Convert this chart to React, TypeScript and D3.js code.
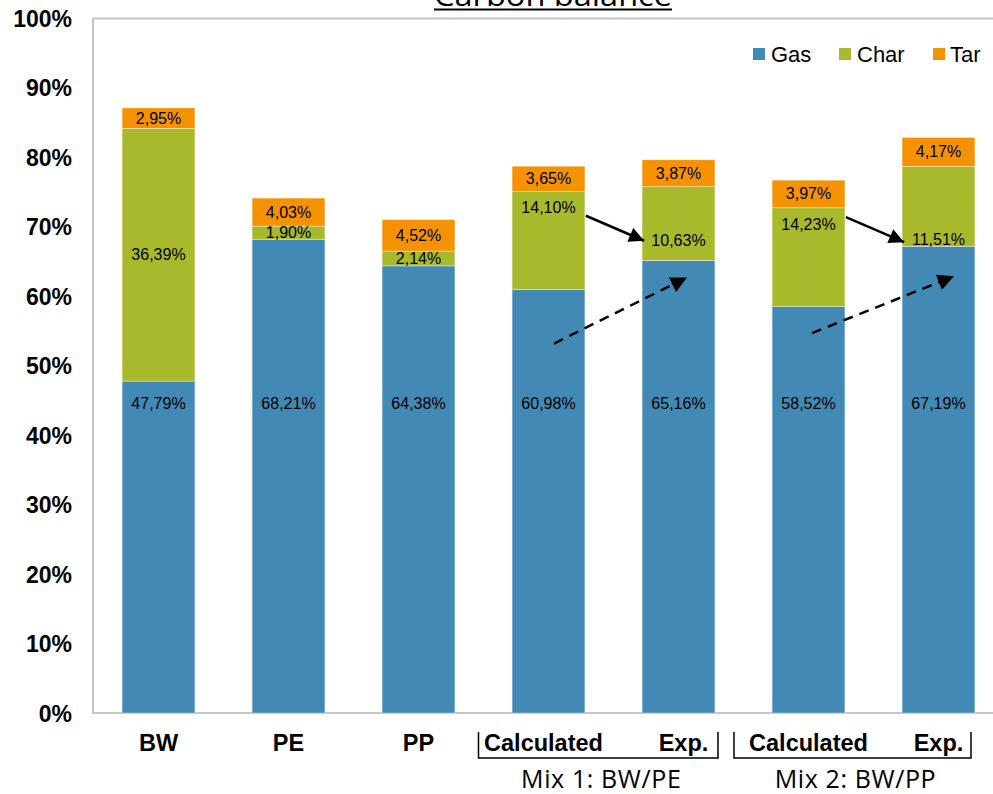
import React from "react";
import * as d3 from "d3";

// Carbon balance per feedstock (% of feed carbon)
const categories = ["BW", "PE", "PP", "Calc1", "Exp1", "Calc2", "Exp2"];
const categoryLabels = ["BW", "PE", "PP", "Calculated", "Exp.", "Calculated", "Exp."];
const gasValues = [47.79, 68.21, 64.38, 60.98, 65.16, 58.52, 67.19];
const charValues = [36.39, 1.9, 2.14, 14.1, 10.63, 14.23, 11.51];
const tarValues = [2.95, 4.03, 4.52, 3.65, 3.87, 3.97, 4.17];
const seriesNames = ["Gas", "Char", "Tar"];
const yTicks = [0, 10, 20, 30, 40, 50, 60, 70, 80, 90, 100];
const mixGroups = [
  { label: "Mix 1: BW/PE", from: "Calc1", to: "Exp1" },
  { label: "Mix 2: BW/PP", from: "Calc2", to: "Exp2" },
];

const W = 993;
const H = 794;
const COLORS = ["#4389b5", "#a8b92b", "#f59200"];
const ARIAL = "'Liberation Sans', Arial, sans-serif";
const CALIBRI = "'Open Sans', 'Noto Sans', sans-serif";

const fmt = (v: number) => v.toFixed(2).replace(".", ",") + "%";

export default function App() {
  const x = d3
    .scaleBand<string>()
    .domain(categories)
    .range([93.5, 1003.5])
    .paddingInner(0.44)
    .paddingOuter(0.22);
  const y = d3.scaleLinear().domain([0, 100]).range([713, 18.5]);

  const rows = categories.map((c, i) => ({
    cat: c,
    Gas: gasValues[i],
    Char: charValues[i],
    Tar: tarValues[i],
  }));
  const stacked = d3.stack<any>().keys(seriesNames)(rows);

  const bw = x.bandwidth();
  const cx = (c: string) => (x(c) as number) + bw / 2;

  // Label anchors: gas labels share one height, some char labels are nudged
  const gasLabelY = 44.6;
  const charLabelOverride: Record<string, number> = {
    Calc1: 72.8,
    Exp1: 68.1,
    Calc2: 70.4,
    Exp2: 68.2,
  };
  // Horizontal nudges of the category captions under the first mix
  const labelShift: Record<string, number> = { Calc1: -5, Exp1: 5 };

  // Annotation arrows between calculated and experimental bars
  const solidArrows = [
    { from: "Calc1", to: "Exp1", y0: 71.6, y1: 68.0 },
    { from: "Calc2", to: "Exp2", y0: 71.4, y1: 67.8 },
  ];
  const dashedArrows = [
    { from: "Calc1", to: "Exp1", dx0: 5.5, dx1: 8.5, y0: 53.2, y1: 62.7 },
    { from: "Calc2", to: "Exp2", dx0: 3.5, dx1: 15.5, y0: 54.7, y1: 62.9 },
  ];

  const legendItems = [
    { name: "Gas", sx: 753, tx: 771 },
    { name: "Char", sx: 839, tx: 857 },
    { name: "Tar", sx: 933, tx: 950 },
  ];

  return (
    <svg
      width={W}
      height={H}
      style={{ position: "absolute", left: 0, top: 0, background: "#fff" }}
    >
      <defs>
        <marker
          id="headSolid"
          viewBox="0 0 10 10"
          refX="10"
          refY="5"
          markerWidth="7"
          markerHeight="6"
          markerUnits="strokeWidth"
          orient="auto"
        >
          <path d="M0,0 L10,5 L0,10 z" fill="#000" />
        </marker>
        <marker
          id="headDashed"
          viewBox="0 0 10 10"
          refX="10"
          refY="5"
          markerWidth="7"
          markerHeight="6.5"
          markerUnits="strokeWidth"
          orient="auto"
        >
          <path d="M0,0 L10,5 L0,10 z" fill="#000" />
        </marker>
      </defs>

      {/* plot area frame */}
      <rect
        x={93}
        y={y(100)}
        width={920}
        height={y(0) - y(100)}
        fill="none"
        stroke="#c6c6c6"
        strokeWidth={2}
      />

      {/* title */}
      <text
        x={553}
        y={5.5}
        textAnchor="middle"
        fontFamily={CALIBRI}
        fontSize={30}
        textLength={238}
        lengthAdjust="spacingAndGlyphs"
        fill="#000"
      >
        Carbon balance
      </text>
      <line x1={434} x2={672} y1={9.5} y2={9.5} stroke="#000" strokeWidth={2} />

      {/* y axis labels */}
      {yTicks.map((t) => (
        <text
          key={t}
          x={72}
          y={y(t) + 8.5}
          textAnchor="end"
          fontFamily={ARIAL}
          fontWeight="bold"
          fontSize={23}
          fill="#000"
        >
          {t}%
        </text>
      ))}

      {/* stacked bars */}
      {stacked.map((s, si) => (
        <g key={s.key}>
          {s.map((d: any, i: number) => (
            <rect
              key={i}
              x={x(categories[i])}
              y={y(d[1])}
              width={bw}
              height={y(d[0]) - y(d[1])}
              fill={COLORS[si]}
              stroke="#ffffff"
              strokeOpacity={0.45}
              strokeWidth={0.8}
            />
          ))}
        </g>
      ))}

      {/* data labels */}
      {stacked.map((s, si) =>
        s.map((d: any, i: number) => {
          const cat = categories[i];
          const v = d[1] - d[0];
          let ly = (d[0] + d[1]) / 2;
          if (si === 0) ly = gasLabelY;
          if (si === 1 && charLabelOverride[cat] !== undefined) ly = charLabelOverride[cat];
          return (
            <text
              key={`${si}-${i}`}
              x={cx(cat)}
              y={y(ly) + 5.5}
              textAnchor="middle"
              fontFamily={ARIAL}
              fontSize={16}
              fill="#000"
            >
              {fmt(v)}
            </text>
          );
        })
      )}

      {/* solid arrows: char decrease */}
      {solidArrows.map((a, i) => (
        <line
          key={`s${i}`}
          x1={(x(a.from) as number) + bw + 1}
          y1={y(a.y0)}
          x2={(x(a.to) as number) + 2}
          y2={y(a.y1)}
          stroke="#000"
          strokeWidth={2.5}
          markerEnd="url(#headSolid)"
        />
      ))}

      {/* dashed arrows: gas increase */}
      {dashedArrows.map((a, i) => (
        <line
          key={`d${i}`}
          x1={cx(a.from) + a.dx0}
          y1={y(a.y0)}
          x2={cx(a.to) + a.dx1}
          y2={y(a.y1)}
          stroke="#000"
          strokeWidth={2.5}
          strokeDasharray="10,7"
          markerEnd="url(#headDashed)"
        />
      ))}

      {/* legend */}
      {legendItems.map((l, i) => (
        <g key={l.name}>
          <rect x={l.sx} y={48} width={12} height={12} fill={COLORS[i]} />
          <text x={l.tx} y={62} fontFamily={ARIAL} fontSize={22} fill="#000">
            {seriesNames[i]}
          </text>
        </g>
      ))}

      {/* category labels */}
      {categories.map((c, i) => (
        <text
          key={c}
          x={cx(c) + (labelShift[c] || 0)}
          y={751}
          textAnchor="middle"
          fontFamily={ARIAL}
          fontWeight="bold"
          fontSize={23.5}
          fill="#000"
        >
          {categoryLabels[i]}
        </text>
      ))}

      {/* mix brackets */}
      {mixGroups.map((g, gi) => {
        const left = cx(g.from) - (gi === 0 ? 70 : 74.5);
        const right = cx(g.to) + (gi === 0 ? 39.5 : 32.5);
        return (
          <g key={g.label}>
            <path
              d={`M${left},732 V758 H${right} V732`}
              fill="none"
              stroke="#000"
              strokeWidth={1.5}
            />
            <text
              x={(left + right) / 2 + 3}
              y={788}
              textAnchor="middle"
              fontFamily={CALIBRI}
              fontSize={25}
              letterSpacing={0.6}
              fill="#000"
            >
              {g.label}
            </text>
          </g>
        );
      })}
    </svg>
  );
}
